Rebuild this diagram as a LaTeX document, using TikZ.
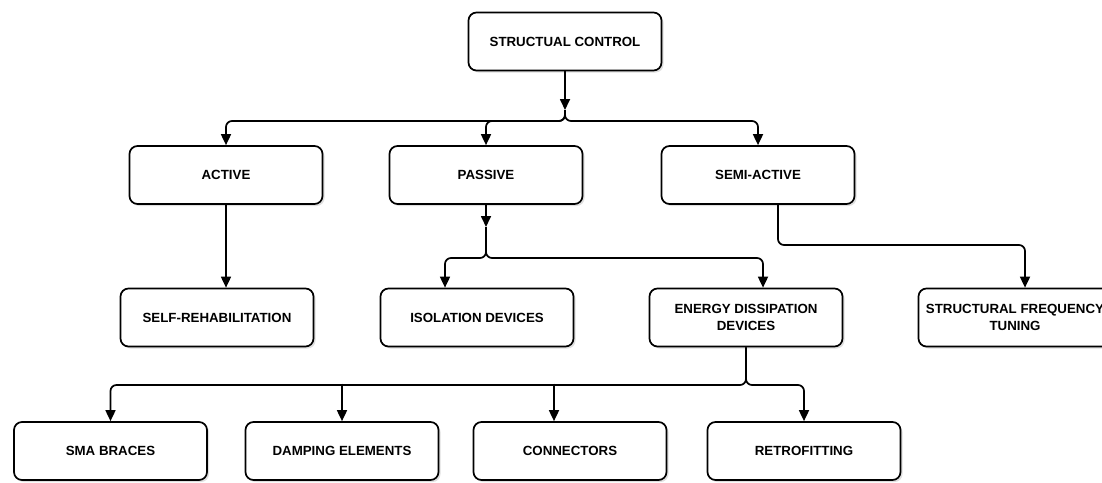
\documentclass[tikz,border=0pt]{standalone}
\usepackage{fontspec}
\setmainfont{Liberation Sans}
\usetikzlibrary{arrows.meta,shadows}
\begin{document}
\begin{tikzpicture}[x=1pt,y=-1pt,
 box/.style={draw=black, line width=1.7pt, rounded corners=8pt, fill=white,
   minimum width=193pt, minimum height=58pt, align=center, inner sep=2pt,
   font=\fontsize{13.3}{16.5}\selectfont\bfseries,
   drop shadow={shadow xshift=2pt, shadow yshift=-2pt, opacity=0.25}},
 link/.style={line width=1.7pt, rounded corners=6pt},
 arr/.style={link, -{Triangle[length=11pt,width=10pt]}}]
\clip (0,0) rectangle (1102,482);
\fill[white] (0,0) rectangle (1102,482);
% nodes
\node[box] (root)  at (565,41.5) {STRUCTUAL CONTROL};
\node[box] (act)   at (226,175) {ACTIVE};
\node[box] (pas)   at (486,175) {PASSIVE};
\node[box] (semi)  at (758,175) {SEMI-ACTIVE};
\node[box] (self)  at (217,317.5) {SELF-REHABILITATION};
\node[box] (iso)   at (477,317.5) {ISOLATION DEVICES};
\node[box] (ene)   at (746,317.5) {ENERGY DISSIPATION\\DEVICES};
\node[box] (sft)   at (1015,317.5) {STRUCTURAL FREQUENCY\\TUNING};
\node[box] (sma)   at (110.5,451) {SMA BRACES};
\node[box] (damp)  at (342,451) {DAMPING ELEMENTS};
\node[box] (conn)  at (570,451) {CONNECTORS};
\node[box] (retro) at (804,451) {RETROFITTING};
% helper coordinates
\coordinate (t0) at (565,110);
\coordinate (j0) at (565,121);
\coordinate (t1) at (486,227);
\coordinate (j1) at (486,258);
\coordinate (isox) at (445,0);
\coordinate (enex) at (763,0);
\coordinate (semix) at (778,0);
\coordinate (j2) at (778,245);
\coordinate (sftx) at (1025,0);
\coordinate (j3) at (746,385);
\coordinate (j3t) at (746,383.5);
\coordinate (dampx) at (342,0);
\coordinate (connx) at (554,0);
% root
\draw[arr] (root.south) -- (t0);
\draw[arr] (t0) -- (j0) -| (act.north);
\draw[arr] (t0) -- (j0) -| (pas.north);
\draw[arr] (t0) -- (j0) -| (semi.north);
% active
\draw[arr] (act.south) -- (self.north -| act.south);
% passive
\draw[arr] (pas.south) -- (t1);
\draw[arr] (t1) -- (j1) -| (iso.north -| isox);
\draw[arr] (t1) -- (j1) -| (ene.north -| enex);
% semi-active
\draw[arr] (semi.south -| semix) -- (j2) -| (sft.north -| sftx);
% energy
\draw[arr] (ene.south) -- (j3) -| (sma.north);
\draw[arr] (ene.south) -- (j3) -| (retro.north);
\draw[arr] (j3t -| dampx) -- (damp.north -| dampx);
\draw[arr] (j3t -| connx) -- (conn.north -| connx);
\end{tikzpicture}
\end{document}
